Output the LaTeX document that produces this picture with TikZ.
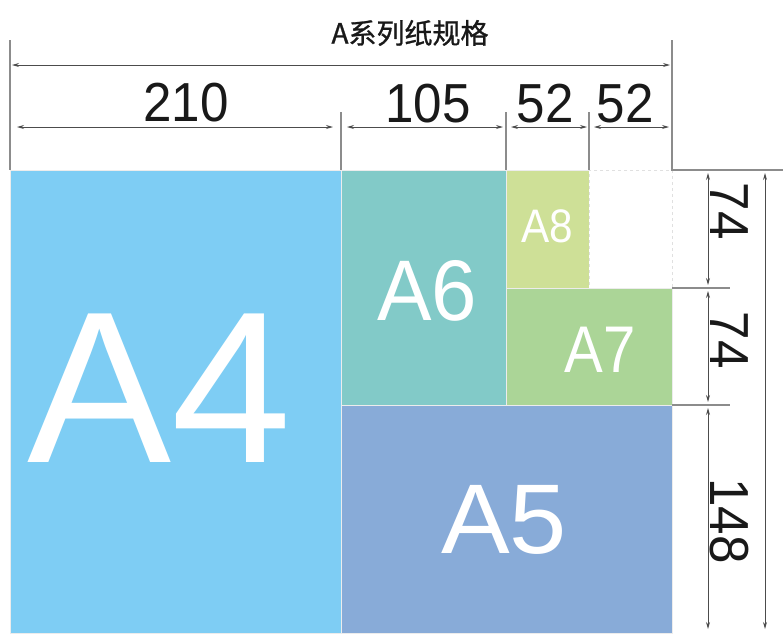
\documentclass[tikz,border=0pt]{standalone}
\usepackage{graphicx}
\usepackage{fontspec}
\setmainfont{Liberation Sans}
\newfontfamily\cjkfont[FakeBold=1]{Noto Sans CJK SC}
\usetikzlibrary{arrows.meta}
\definecolor{cAfour}{HTML}{7ECDF4}
\definecolor{cAsix}{HTML}{82CAC8}
\definecolor{cAeight}{HTML}{CEE097}
\definecolor{cAseven}{HTML}{ABD597}
\definecolor{cAfive}{HTML}{88ABD8}
\newcommand{\narrow}[2]{\scalebox{#1}[1]{#2}}
\begin{document}
\begin{tikzpicture}[x=1pt,y=-1pt,
  paper/.style={draw=white!85!gray, line width=0.8pt, inner sep=0pt, outer sep=0pt, anchor=north west},
  biglabel/.style={text=white, inner sep=0pt, anchor=base},
  dimlabel/.style={text=black!90, inner sep=0pt, font=\fontsize{55}{55}\selectfont},
  dimarrow/.style={draw=black!70, line width=0.9pt, {Stealth[length=7pt,width=4pt]}-{Stealth[length=7pt,width=4pt]}},
  extline/.style={draw=black!45, line width=1.1pt},
]
\useasboundingbox (0,0) rectangle (783,633);

% paper rectangles
\node[paper, fill=cAfour, minimum width=331pt, minimum height=463pt] (A4) at (10,170) {};
\node[paper, fill=cAsix, minimum width=165pt, minimum height=235pt] (A6) at (341,170) {};
\node[paper, fill=cAeight, minimum width=83pt, minimum height=118pt] (A8) at (506,170) {};
\node[paper, draw=black!12, dashed, fill=white, minimum width=83pt, minimum height=118pt] (blank) at (589,170) {};
\node[paper, fill=cAseven, minimum width=166pt, minimum height=117pt] (A7) at (506,288) {};
\node[paper, fill=cAfive, minimum width=331pt, minimum height=228pt] (A5) at (341,405) {};

% size labels
\node[biglabel, font=\fontsize{216}{216}\selectfont] (tA4) at (160,462) {\narrow{1.0}{A4}};
\node[biglabel, font=\fontsize{86}{86}\selectfont] (tA6) at (427,320) {\narrow{0.95}{A6}};
\node[biglabel, font=\fontsize{47}{47}\selectfont] (tA8) at (547,242) {\narrow{0.9}{A8}};
\node[biglabel, font=\fontsize{66}{66}\selectfont] (tA7) at (600,372) {\narrow{0.88}{A7}};
\node[biglabel, font=\fontsize{99}{99}\selectfont] (tA5) at (504,553) {\narrow{1.04}{A5}};

% title
\node[font=\cjkfont\fontsize{28}{28}\selectfont, text=black!90, inner sep=0pt] (title) at (410,33) {A系列纸规格};

% extension lines (top)
\coordinate (e0t) at (10,40);
\coordinate (e4t) at (672,40);
\coordinate (e1t) at (341,112);
\coordinate (e2t) at (506,112);
\coordinate (e3t) at (589,112);
\coordinate (corner) at (783,170);
\draw[extline] (e0t) -- (A4.north west);
\draw[extline] (e4t) -- (blank.north east) -- (corner);
\draw[extline] (e1t) -- (A6.north west);
\draw[extline] (e2t) -- (A8.north west);
\draw[extline] (e3t) -- (blank.north west);

% extension lines (right)
\coordinate (t1) at (730,288);
\coordinate (t2) at (730,405);
\draw[extline] (A7.north east) -- (t1);
\draw[extline] (A5.north east) -- (t2);

% top dimension arrows
\coordinate (d0a) at (10,65);
\coordinate (d0b) at (672,65);
\draw[dimarrow, shorten <=2pt, shorten >=2pt] (d0a) -- (d0b);
\coordinate (r0) at (10,127);
\coordinate (r1) at (341,127);
\coordinate (r2) at (506,127);
\coordinate (r3) at (589,127);
\coordinate (r4) at (672,127);
\draw[dimarrow, shorten <=7pt, shorten >=8pt] (r0) -- (r1);
\draw[dimarrow, shorten <=6pt, shorten >=3pt] (r1) -- (r2);
\draw[dimarrow, shorten <=5pt, shorten >=2pt] (r2) -- (r3);
\draw[dimarrow, shorten <=5pt, shorten >=3pt] (r3) -- (r4);

\node[dimlabel] (l210) at (186,103) {\narrow{0.93}{210}};
\node[dimlabel] (l105) at (428,104) {\narrow{0.93}{105}};
\node[dimlabel] (l52a) at (545,104) {\narrow{0.93}{52}};
\node[dimlabel] (l52b) at (625,104) {\narrow{0.93}{52}};

% right dimension arrows
\coordinate (v0) at (708,170);
\coordinate (v1) at (708,288);
\coordinate (v2) at (708,405);
\coordinate (v3) at (708,633);
\coordinate (w0) at (765,170);
\coordinate (w3) at (765,633);
\draw[dimarrow, shorten <=3pt, shorten >=3pt] (v0) -- (v1);
\draw[dimarrow, shorten <=3pt, shorten >=3pt] (v1) -- (v2);
\draw[dimarrow, shorten <=3pt, shorten >=4pt] (v2) -- (v3);
\draw[dimarrow, shorten <=3pt, shorten >=4pt] (w0) -- (w3);

\node[dimlabel, rotate=-90] (l74a) at (729,211) {\narrow{0.93}{74}};
\node[dimlabel, rotate=-90] (l74b) at (729,340) {\narrow{0.93}{74}};
\node[dimlabel, rotate=-90] (l148) at (729,521) {\narrow{0.93}{148}};
\end{tikzpicture}
\end{document}
